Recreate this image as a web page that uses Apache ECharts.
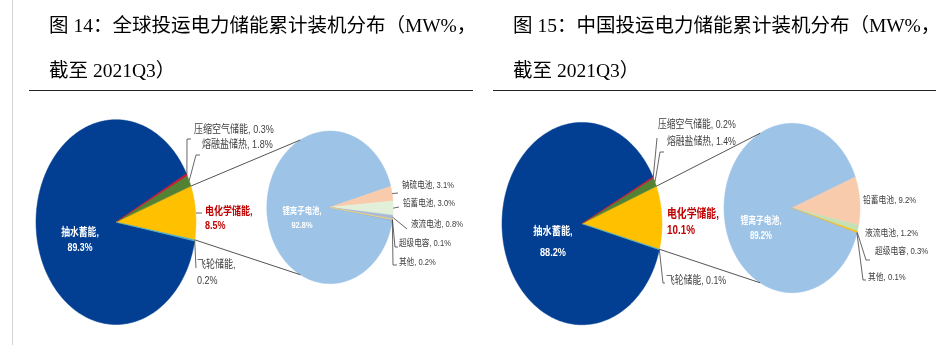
<!DOCTYPE html>
<html><head><meta charset="utf-8">
<script src="https://cdn.jsdelivr.net/npm/echarts@6/dist/echarts.min.js"></script>
<style>html,body{margin:0;padding:0;background:#fff}#c{width:952px;height:345px}</style>
</head><body><div id="c"></div>
<script>
// ================= DATA =================
const titleGlobal = ['图 14：全球投运电力储能累计装机分布（MW%，', '截至 2021Q3）'];
const titleChina = ['图 15：中国投运电力储能累计装机分布（MW%，', '截至 2021Q3）'];
const mainCategories = ['抽水蓄能', '电化学储能', '压缩空气储能', '熔融盐储热', '飞轮储能'];
const mainValuesGlobal = [89.3, 8.5, 0.3, 1.8, 0.2];
const mainValuesChina = [88.2, 10.1, 0.2, 1.4, 0.1];
const subCategoriesGlobal = ['锂离子电池', '钠硫电池', '铅蓄电池', '液流电池', '超级电容', '其他'];
const subValuesGlobal = [92.8, 3.1, 3.0, 0.8, 0.1, 0.2];
const subCategoriesChina = ['锂离子电池', '铅蓄电池', '液流电池', '超级电容', '其他'];
const subValuesChina = [89.2, 9.2, 1.2, 0.3, 0.1];

// ================= STYLE / LAYOUT =================
const LABEL_FONT = '"Liberation Sans","Noto Sans CJK SC",sans-serif';
const TITLE_FONT = '"Liberation Serif","Noto Sans CJK SC",serif';
const LINE_COLOR = '#404040';
const mainColorList = ['#023E92', '#FFC000', '#C8102E', '#548235', '#4BACC6'];
const subColorsGlobal = ['#9DC3E6', '#F8CBAD', '#E2F0D9', '#A9B9D6', '#FFD966', '#8FAADC'];
const subColorsChina = ['#9DC3E6', '#F8CBAD', '#C5E0B4', '#FFC000', '#A9B9D6'];

const panels = [
  {
    titles: titleGlobal, titleX: 49, rule: [29, 473],
    grid: {left: 12, top: 99.2, width: 440, height: 249.6},
    mainCats: mainCategories, mainVals: mainValuesGlobal, mainColors: mainColorList,
    ringOrder: [1, 3, 2, 0, 4], linkIndex: 1, mainCenterAngle: 5.3,
    subCats: subCategoriesGlobal, subVals: subValuesGlobal, subColors: subColorsGlobal,
    subCenter: [2.675, 0.144], subR: [0.79, 0.745], subGroupCenter: 3, connAngle: 118,
    labels: [
      {pie: 'main', idx: 0, two: true, x: 80, y: [233, 248], align: 'center', color: '#fff', bold: true, fs: 11, sx: 0.8},
      {pie: 'main', idx: 1, two: true, x: 205, y: [212, 226], color: '#C00000', bold: true, fs: 11, sx: 0.82,
        leader: {pts: [[196, 213], [202, 213]]}},
      {pie: 'main', idx: 2, x: 194, y: [130], fs: 11, sx: 0.82, leader: {from: true, pts: [[187, 139], [191, 139]]}},
      {pie: 'main', idx: 3, x: 202, y: [145], fs: 11, sx: 0.82, leader: {from: true, pts: [[196, 155], [200, 155]]}},
      {pie: 'main', idx: 4, two: true, x: 197, y: [265, 281], fs: 11, sx: 0.82, leader: {from: true, pts: [[196, 268]]}},
      {pie: 'sub', idx: 0, two: true, x: 302, y: [211, 225], align: 'center', color: '#fff', bold: true, fs: 9.5, sx: 0.78},
      {pie: 'sub', idx: 1, x: 402, y: [185], fs: 9.5, sx: 0.8, leader: {from: true, pts: [[398, 193]]}},
      {pie: 'sub', idx: 2, x: 403, y: [203], fs: 9.5, sx: 0.8, leader: {from: true, pts: [[399, 207]]}},
      {pie: 'sub', idx: 3, x: 411, y: [224], fs: 9.5, sx: 0.8, leader: {from: true, pts: [[407, 229]]}},
      {pie: 'sub', idx: 4, x: 399, y: [243], fs: 9.5, sx: 0.8, leader: {from: true, pts: [[395, 247], [398, 247]]}},
      {pie: 'sub', idx: 5, x: 399, y: [262], fs: 9.5, sx: 0.8, leader: {from: true, pts: [[393, 265], [397, 265]]}}
    ]
  },
  {
    titles: titleChina, titleX: 513, rule: [493, 936],
    grid: {left: 478, top: 102.2, width: 440, height: 249.6},
    mainCats: mainCategories, mainVals: mainValuesChina, mainColors: mainColorList,
    ringOrder: [1, 3, 2, 0, 4], linkIndex: 1, mainCenterAngle: 3.5,
    subCats: subCategoriesChina, subVals: subValuesChina, subColors: subColorsChina,
    subCenter: [2.625, 0.154], subR: [0.85, 0.837], subGroupCenter: 2, connAngle: 118,
    labels: [
      {pie: 'main', idx: 0, two: true, x: 553, y: [232, 253], align: 'center', color: '#fff', bold: true, fs: 11.5, sx: 0.8},
      {pie: 'main', idx: 1, two: true, x: 667, y: [215, 231], color: '#C00000', bold: true, fs: 12, sx: 0.82},
      {pie: 'main', idx: 2, x: 658, y: [125], fs: 11, sx: 0.8, leader: {from: true, pts: [[657, 138]]}},
      {pie: 'main', idx: 3, x: 667, y: [142], fs: 11, sx: 0.8, leader: {from: true, pts: [[660, 152], [664, 152]]}},
      {pie: 'main', idx: 4, x: 666, y: [281], fs: 11, sx: 0.8, leader: {from: true, pts: [[663, 283], [665, 283]]}},
      {pie: 'sub', idx: 0, two: true, x: 761, y: [221, 236], align: 'center', color: '#fff', bold: true, fs: 10, sx: 0.78},
      {pie: 'sub', idx: 1, x: 863, y: [200], fs: 9.5, sx: 0.82},
      {pie: 'sub', idx: 2, x: 865, y: [233], fs: 9.5, sx: 0.82},
      {pie: 'sub', idx: 3, x: 875, y: [251], fs: 9.5, sx: 0.82, leader: {from: true, pts: [[866, 260], [870, 260]]}},
      {pie: 'sub', idx: 4, x: 868, y: [277], fs: 9.5, sx: 0.82, leader: {from: true, pts: [[863, 280], [866, 280]]}}
    ]
  }
];

// ================= GEOMETRY FROM DATA =================
const sum = a => a.reduce((s, v) => s + v, 0);
function mainAngles(p) {
  const total = sum(p.mainVals);
  const span = v => v / total * 360;
  let a = p.mainCenterAngle - span(p.mainVals[p.ringOrder[0]]) / 2;
  const res = [];
  p.ringOrder.forEach(i => { const s = span(p.mainVals[i]); res[i] = [a, a + s]; a += s; });
  return res;
}
function subAngles(p) {
  const total = sum(p.subVals);
  const group = (total - p.subVals[0]) / total * 360;
  let top = p.subGroupCenter + group / 2;
  const res = [];
  for (let i = 1; i < p.subVals.length; i++) {
    const s = p.subVals[i] / total * 360; res[i] = [top - s, top]; top -= s;
  }
  res[0] = [top - p.subVals[0] / total * 360, top];
  return res;
}
const rad = d => d * Math.PI / 180;
function ellPt(c, r, a) { return [c[0] + r[0] * Math.cos(rad(a)), c[1] + r[1] * Math.sin(rad(a))]; }

function sliceRender(params, api) {
  const c = [api.value(0), api.value(1)], r = [api.value(2), api.value(3)];
  const a0 = api.value(4), a1 = api.value(5);
  const pts = [api.coord(c)];
  const n = Math.max(2, Math.ceil(a1 - a0));
  for (let i = 0; i <= n; i++) pts.push(api.coord(ellPt(c, r, a0 + (a1 - a0) * i / n)));
  const col = api.visual('color');
  return {type: 'polygon', shape: {points: pts}, style: {fill: col, stroke: col, lineWidth: 0.5}};
}

const series = [], xAxes = [], yAxes = [], grids = [], graphics = [];
graphics.push({type: 'line', shape: {x1: 12.5, y1: 0, x2: 12.5, y2: 345}, style: {stroke: '#d4d4d4', lineWidth: 1}});

panels.forEach((p, k) => {
  grids.push(Object.assign({}, p.grid));
  xAxes.push({type: 'value', gridIndex: k, min: -1.3, max: 4.2, show: false});
  yAxes.push({type: 'value', gridIndex: k, min: -1.2, max: 1.2, show: false});
  const mA = mainAngles(p), sA = subAngles(p);
  const mC = [0, 0], mR = [1, 1];

  // titles & rule
  p.titles.forEach((t, j) => graphics.push({type: 'text', x: p.titleX, y: j === 0 ? 27 : 72,
    style: {text: t, fill: '#000', fontSize: 19.5, fontFamily: TITLE_FONT, verticalAlign: 'middle', align: 'left'}}));
  graphics.push({type: 'line', shape: {x1: p.rule[0], y1: 90.5, x2: p.rule[1], y2: 90.5}, style: {stroke: '#222', lineWidth: 1}});

  // slices
  const items = [];
  p.mainVals.forEach((v, i) => items.push({v, value: [mC[0], mC[1], mR[0], mR[1], mA[i][0], mA[i][1]], itemStyle: {color: p.mainColors[i]}}));
  p.subVals.forEach((v, i) => items.push({v, value: [p.subCenter[0], p.subCenter[1], p.subR[0], p.subR[1], sA[i][0], sA[i][1]], itemStyle: {color: p.subColors[i]}}));
  items.sort((a, b) => b.v - a.v);
  series.push({type: 'custom', coordinateSystem: 'cartesian2d', xAxisIndex: k, yAxisIndex: k, silent: true,
    animation: false, renderItem: sliceRender, data: items.map(d => ({value: d.value, itemStyle: d.itemStyle}))});

  // connectors from the linked slice to the secondary pie
  const link = mA[p.linkIndex];
  const conn = [
    [ellPt(mC, mR, link[1]), ellPt(p.subCenter, p.subR, p.connAngle)],
    [ellPt(mC, mR, link[0]), ellPt(p.subCenter, p.subR, -p.connAngle)]
  ];
  series.push({type: 'custom', coordinateSystem: 'cartesian2d', xAxisIndex: k, yAxisIndex: k, silent: true, animation: false,
    data: conn.map(c => ({value: [c[0][0], c[0][1], c[1][0], c[1][1]]})),
    renderItem: (params, api) => ({type: 'line',
      shape: (() => { const a = api.coord([api.value(0), api.value(1)]), b = api.coord([api.value(2), api.value(3)]);
        return {x1: a[0], y1: a[1], x2: b[0], y2: b[1]}; })(),
      style: {stroke: LINE_COLOR, lineWidth: 0.9}})
  });

  // labels
  series.push({type: 'custom', coordinateSystem: 'cartesian2d', xAxisIndex: k, yAxisIndex: k, silent: true, animation: false,
    data: p.labels.map((L, i) => ({value: [i, 0]})),
    renderItem: (params, api) => {
      const L = p.labels[api.value(0)];
      const isMain = L.pie === 'main';
      const cat = (isMain ? p.mainCats : p.subCats)[L.idx];
      const val = (isMain ? p.mainVals : p.subVals)[L.idx].toFixed(1) + '%';
      const lines = L.two ? [cat + ',', val] : [cat + ', ' + val];
      const children = [];
      if (L.leader) {
        const pts = [];
        if (L.leader.from) {
          const ang = isMain ? mA[L.idx] : sA[L.idx];
          const mid = (ang[0] + ang[1]) / 2;
          pts.push(api.coord(isMain ? ellPt(mC, mR, mid) : ellPt(p.subCenter, p.subR, mid)));
        }
        L.leader.pts.forEach(q => pts.push(q));
        children.push({type: 'polyline', shape: {points: pts}, style: {stroke: LINE_COLOR, lineWidth: 0.8, fill: null}});
      }
      lines.forEach((t, j) => children.push({type: 'text', x: L.x, y: L.y[j], scaleX: L.sx,
        style: {text: t, fill: L.color || LINE_COLOR, fontSize: L.fs, fontWeight: L.bold ? 'bold' : 'normal',
          fontFamily: LABEL_FONT, align: L.align || 'left', verticalAlign: 'middle'}}));
      return {type: 'group', children};
    }
  });
});

const chart = echarts.init(document.getElementById('c'));
chart.setOption({
  backgroundColor: '#fff', animation: false,
  grid: grids, xAxis: xAxes, yAxis: yAxes, series, graphic: graphics
});
</script></body></html>
